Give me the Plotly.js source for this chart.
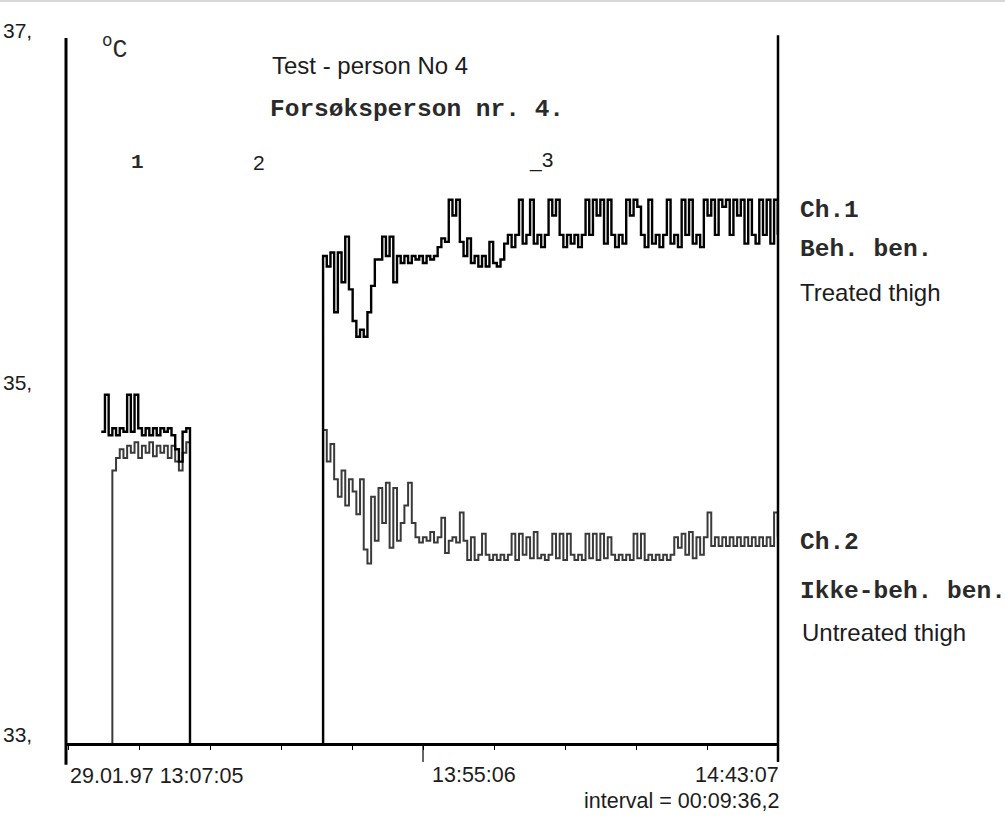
<!DOCTYPE html>
<html>
<head>
<meta charset="utf-8">
<script src="https://cdn.plot.ly/plotly-3.0.1.min.js"></script>
<style>
html,body{margin:0;padding:0;background:#fff;}
#chart{width:1005px;height:816px;}
</style>
</head>
<body>
<div id="chart"></div>
<script>
// Sampling: one reading every 0.5 min, starting 29.01.97 13:07:05 (minute 0)
const sampleStepMin = 0.5;

// Ch.1 – Beh. ben. / Treated thigh (°C); 32.5 = sensor off-scale (below 33)
const ch1Treated = [
  null,null,null,null,null,null,null,null,null,34.72,
  34.93,34.70,34.74,34.70,34.74,34.72,34.93,34.72,34.93,34.74,
  34.70,34.74,34.70,34.74,34.70,34.74,34.72,34.74,34.70,34.62,
  34.55,34.72,34.74,32.5,32.5,32.5,32.5,32.5,32.5,32.5,
  32.5,32.5,32.5,32.5,32.5,32.5,32.5,32.5,32.5,32.5,
  32.5,32.5,32.5,32.5,32.5,32.5,32.5,32.5,32.5,32.5,
  32.5,32.5,32.5,32.5,32.5,32.5,32.5,32.5,32.5,35.72,
  35.66,35.74,35.40,35.74,35.57,35.83,35.53,35.35,35.26,35.30,
  35.26,35.40,35.55,35.70,35.70,35.83,35.72,35.83,35.57,35.72,
  35.68,35.72,35.68,35.72,35.70,35.72,35.68,35.72,35.70,35.72,
  35.77,35.82,35.80,36.04,35.95,36.04,35.80,35.72,35.82,35.68,
  35.72,35.66,35.72,35.66,35.80,35.68,35.66,35.70,35.79,35.84,
  35.77,35.84,36.04,35.79,35.84,36.04,35.79,35.84,35.77,35.84,
  36.04,35.95,36.04,35.84,35.77,35.84,35.79,35.84,35.77,35.84,
  36.04,35.84,36.04,35.95,36.04,35.79,36.04,35.84,35.77,35.84,
  35.79,36.04,35.95,36.04,36.00,35.84,35.77,36.04,35.79,35.84,
  35.77,35.84,36.04,35.79,35.84,35.77,36.04,35.84,36.04,35.79,
  35.84,35.77,36.04,35.95,36.04,35.84,36.04,36.00,36.04,35.84,
  36.04,35.95,36.04,35.79,36.04,35.84,35.79,36.04,35.84,36.04,
  35.79,36.04,35.84
];

// Ch.2 – Ikke-beh. ben. / Untreated thigh (°C)
const ch2Untreated = [
  null,null,null,null,null,null,null,null,null,null,
  null,32.5,34.50,34.57,34.62,34.57,34.64,34.60,34.66,34.57,
  34.64,34.60,34.66,34.58,34.64,34.60,34.64,34.57,34.64,34.55,
  34.50,34.60,34.66,32.5,32.5,32.5,32.5,32.5,32.5,32.5,
  32.5,32.5,32.5,32.5,32.5,32.5,32.5,32.5,32.5,32.5,
  32.5,32.5,32.5,32.5,32.5,32.5,32.5,32.5,32.5,32.5,
  32.5,32.5,32.5,32.5,32.5,32.5,32.5,32.5,32.5,34.73,
  34.55,34.65,34.45,34.35,34.50,34.30,34.45,34.38,34.25,34.45,
  34.05,33.97,34.35,34.10,34.40,34.20,34.43,34.06,34.40,34.10,
  34.20,34.30,34.43,34.20,34.12,34.09,34.12,34.10,34.15,34.09,
  34.12,34.23,34.03,34.10,34.12,34.09,34.26,34.10,33.99,34.12,
  33.99,34.02,34.14,34.02,33.99,34.02,33.99,34.02,33.99,34.02,
  34.14,33.99,34.14,34.02,34.12,34.00,34.15,34.00,34.02,33.99,
  34.02,34.14,34.00,34.14,33.99,34.14,34.02,33.99,34.02,33.99,
  34.14,34.00,34.14,33.99,34.14,34.00,34.12,34.02,33.99,34.02,
  33.99,34.02,33.99,34.14,34.00,34.14,33.99,34.02,33.99,34.02,
  33.99,34.02,33.99,34.02,34.12,34.06,34.14,34.02,34.15,34.00,
  34.12,34.02,34.12,34.26,34.07,34.12,34.07,34.12,34.07,34.12,
  34.07,34.12,34.07,34.12,34.07,34.12,34.07,34.12,34.07,34.12,
  34.07,34.26,34.12
];

// Axis tick positions (minutes from 13:07:05, interval = 00:09:36,2)
const xTickVals = [0, 9.603, 19.207, 28.81, 38.413, 48.017, 57.62, 67.223, 76.827, 86.43, 96.033];
const yTickVals = [37, 35, 33];
const yTickText = ["37,", "35,", "33,"];
const xLabelStart = "29.01.97 13:07:05";
const xLabelMid = "13:55:06";
const xLabelEnd = "14:43:07";
const intervalText = "interval = 00:09:36,2";

const timeMin = ch1Treated.map((_, i) => i * sampleStepMin);
const yRange = [32.949, 36.96];
const xRange = [-0.27, 96.03];

const mono = "Liberation Mono, Courier New, monospace";
const sans = "Liberation Sans, Arial, sans-serif";
const ink = "#1c1c1c";
const monoInk = "#2a2a2a";

const data = [
  {x: timeMin, y: ch2Untreated, type: "scatter", mode: "lines",
   line: {color: "#3a3a3a", width: 2.0, shape: "hv"}, connectgaps: false, hoverinfo: "skip"},
  {x: timeMin, y: ch1Treated, type: "scatter", mode: "lines",
   line: {color: "#000000", width: 2.4, shape: "hv"}, connectgaps: false, hoverinfo: "skip"}
];

const annotations = [];
yTickVals.forEach((v, k) => annotations.push({
  xref: "paper", yref: "paper", x: -0.045, y: (v - yRange[0]) / (yRange[1] - yRange[0]),
  xanchor: "right", yanchor: "middle",
  text: yTickText[k], showarrow: false, font: {family: sans, size: 21, color: ink}
}));
function ann(text, x, y, xanchor, font, size, color) {
  annotations.push({xref: "paper", yref: "paper", x: x, y: y, xanchor: xanchor, yanchor: "middle",
    text: text, showarrow: false, font: {family: font, size: size, color: color || ink}});
}
ann("<sup>o</sup>C", 0.0478, 0.9858, "left", mono, 25, monoInk);
ann("Test - person No 4", 0.2865, 0.9617, "left", sans, 24);
ann("<b>Forsøksperson nr. 4.</b>", 0.2837, 0.8979, "left", mono, 24.5, monoInk);
ann("<b>1</b>", 0.1011, 0.8227, "center", mono, 21, monoInk);
ann("2", 0.2711, 0.8241, "center", sans, 21);
ann("_3", 0.6671, 0.8270, "center", sans, 21);
ann("<b>Ch.1</b>", 1.0281, 0.7560, "left", mono, 24.5, monoInk);
ann("<b>Beh. ben.</b>", 1.0281, 0.6993, "left", mono, 24.5, monoInk);
ann("Treated thigh", 1.0281, 0.6397, "left", sans, 24);
ann("<b>Ch.2</b>", 1.0281, 0.2837, "left", mono, 24.5, monoInk);
ann("<b>Ikke-beh. ben.</b>", 1.0281, 0.2142, "left", mono, 24.5, monoInk);
ann("Untreated thigh", 1.0309, 0.1574, "left", sans, 24);
ann(xLabelStart, 0.0028, -0.0468, "left", sans, 21.5);
ann(xLabelMid, 0.5112, -0.0454, "left", sans, 21.5);
ann(xLabelEnd, 1.0042, -0.0454, "right", sans, 21.5);
ann(intervalText, 1.0042, -0.0823, "right", sans, 21.5);

const shapes = [
  {type: "line", xref: "paper", yref: "paper", x0: 0, x1: 0, y0: -0.031, y1: 1.0, line: {color: "#000", width: 3}},
  {type: "line", xref: "paper", yref: "paper", x0: 1, x1: 1, y0: -0.027, y1: 1.004, line: {color: "#000", width: 2.5}},
  {type: "line", xref: "x", yref: "paper", x0: 48.017, x1: 48.017, y0: 0, y1: -0.027, line: {color: "#000", width: 1.2}},
  {type: "line", xref: "paper", yref: "paper", x0: -0.1, x1: 1.32, y0: 1.0525, y1: 1.0525, line: {color: "#d8d8d8", width: 2}}
];

const layout = {
  width: 1005, height: 816,
  margin: {l: 66, r: 227, t: 38, b: 73, pad: 0},
  paper_bgcolor: "#ffffff", plot_bgcolor: "#ffffff",
  showlegend: false,
  xaxis: {range: xRange, showgrid: false, zeroline: false, showline: true, linecolor: "#000", linewidth: 2.5,
          tickmode: "array", tickvals: xTickVals, ticks: "outside", ticklen: 4, tickwidth: 1, tickcolor: "#000",
          showticklabels: false, fixedrange: true},
  yaxis: {range: yRange, showgrid: false, zeroline: false, showline: false,
          tickmode: "array", tickvals: yTickVals, ticks: "", showticklabels: false, fixedrange: true},
  annotations: annotations,
  shapes: shapes
};

Plotly.newPlot("chart", data, layout, {staticPlot: true, displayModeBar: false});
</script>
</body>
</html>
